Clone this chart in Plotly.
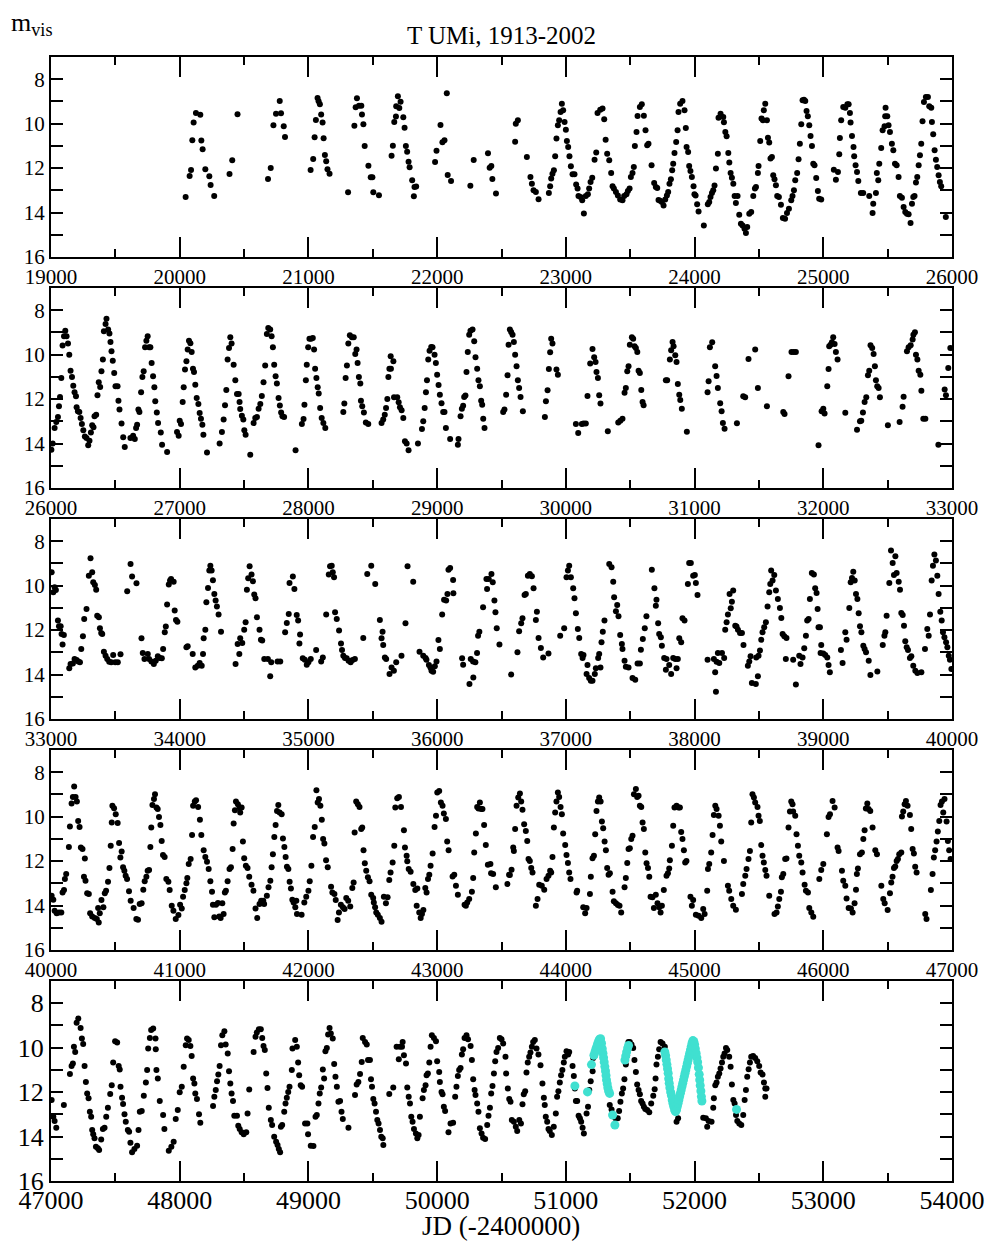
import plotly.graph_objects as go

# ---------------- data: (JD-2400000, visual magnitude) ----------------
panel_ranges = [(19000, 26000), (26000, 33000), (33000, 40000), (40000, 47000), (47000, 54000)]
jd_ticks = list(range(19000, 54001, 1000))
mag_ticks = [8, 9, 10, 11, 12, 13, 14, 15, 16]
mag_labels = ["8", "", "10", "", "12", "", "14", "", "16"]

obs_1913_1930 = [
    (20046, 13.3), (20077, 12.35), (20088, 12.08), (20098, 10.75), (20108, 9.95), (20126, 9.52), (20160, 9.6),
    (20168, 10.76), (20178, 11.15), (20199, 12.05), (20230, 12.37), (20240, 12.76), (20268, 13.25), (20387, 12.26),
    (20408, 11.65), (20449, 9.58), (20686, 12.49), (20707, 11.99), (20728, 10.07), (20748, 9.55), (20777, 8.98),
    (20787, 9.53), (20808, 10.12), (20818, 10.6), (21017, 12.08), (21037, 11.59), (21048, 10.61), (21058, 9.83),
    (21071, 8.84), (21079, 8.99), (21089, 9.13), (21099, 9.59), (21110, 9.95), (21118, 10.66), (21128, 11.41),
    (21138, 11.69), (21148, 12.05), (21164, 12.25), (21308, 13.09), (21357, 10.09), (21367, 9.26), (21377, 8.86),
    (21393, 9.19), (21411, 9.19), (21416, 9.59), (21427, 10.03), (21437, 11.0), (21466, 11.89), (21484, 12.41),
    (21497, 12.41), (21504, 13.09), (21548, 13.22), (21646, 11.44), (21656, 10.99), (21667, 9.92), (21680, 9.68),
    (21682, 9.22), (21695, 8.77), (21706, 9.29), (21716, 9.01), (21737, 9.71), (21747, 10.18), (21757, 11.0),
    (21767, 11.26), (21778, 11.71), (21786, 11.96), (21806, 12.55), (21819, 13.27), (21824, 12.85), (21837, 12.83),
    (21984, 11.72), (21995, 11.22), (22026, 10.06), (22041, 10.84), (22057, 10.75), (22075, 8.63), (22082, 12.31),
    (22108, 12.58), (22258, 12.79), (22284, 11.63), (22395, 11.33), (22408, 11.98), (22421, 11.9), (22429, 12.49),
    (22457, 13.14),
    (22606, 10.81), (22611, 10.0), (22627, 9.85), (22697, 11.5), (22725, 12.4), (22736, 12.7), (22749, 13.0),
    (22767, 13.07), (22788, 13.4), (22868, 13.12), (22878, 12.82), (22886, 12.47), (22896, 12.25), (22907, 12.1),
    (22917, 11.47), (22927, 10.67), (22938, 10.07), (22948, 9.85), (22959, 9.47), (22969, 9.1), (22979, 9.4),
    (22990, 9.92), (23000, 10.27), (23008, 10.78), (23018, 11.05), (23028, 11.47), (23039, 11.92), (23052, 12.28),
    (23067, 12.28), (23080, 12.74), (23091, 12.92), (23098, 13.25), (23114, 13.3), (23127, 13.45), (23140, 14.04),
    (23155, 13.25), (23171, 13.18), (23181, 12.92), (23192, 12.62), (23205, 12.43), (23223, 11.62), (23236, 11.3),
    (23246, 9.52), (23267, 9.37), (23285, 9.32), (23298, 9.8), (23309, 10.72), (23321, 11.35), (23337, 11.65),
    (23352, 12.22), (23363, 12.82), (23373, 12.92), (23389, 13.07), (23404, 13.23), (23422, 13.41), (23440, 13.45),
    (23453, 13.25), (23471, 13.18), (23482, 13.03), (23495, 12.92), (23505, 12.4), (23518, 12.22), (23528, 11.95),
    (23536, 11.0), (23549, 10.38), (23557, 9.65), (23575, 9.25), (23590, 9.13), (23606, 9.64), (23619, 10.3),
    (23632, 10.97), (23642, 10.9), (23666, 11.87), (23686, 12.67), (23699, 12.85), (23710, 12.9), (23720, 13.44),
    (23733, 13.47), (23746, 13.53), (23759, 13.68), (23772, 13.41), (23785, 13.23), (23795, 13.07), (23805, 12.7),
    (23816, 12.5), (23826, 12.1), (23834, 11.8), (23844, 11.32), (23857, 10.82), (23868, 10.3), (23875, 9.47),
    (23888, 9.1), (23906, 8.98), (23922, 9.4), (23932, 10.2), (23938, 11.05), (23950, 11.27), (23958, 11.9),
    (23968, 12.13), (23979, 12.4), (23992, 12.82), (23999, 13.18), (24008, 13.23), (24020, 13.63), (24031, 13.95),
    (24072, 14.58), (24103, 13.63), (24114, 13.53), (24124, 13.3), (24135, 13.12), (24145, 13.0), (24155, 12.78),
    (24166, 12.02), (24181, 11.35), (24186, 9.73), (24202, 9.55), (24223, 9.7), (24228, 9.94), (24239, 10.37),
    (24249, 10.57), (24262, 11.32), (24270, 11.75), (24280, 12.22), (24290, 12.43), (24301, 12.7), (24311, 13.25),
    (24321, 13.57), (24334, 13.25), (24347, 14.1), (24360, 14.5), (24373, 14.58), (24388, 14.73), (24399, 14.92),
    (24409, 14.65), (24425, 14.05), (24440, 13.98), (24456, 13.25), (24469, 12.92), (24477, 12.85), (24492, 12.22),
    (24497, 11.9), (24510, 10.78), (24520, 9.77), (24531, 9.85), (24538, 9.4), (24549, 9.1), (24562, 9.85),
    (24570, 10.63), (24580, 10.85), (24590, 11.57), (24601, 11.5), (24611, 12.32), (24621, 12.5), (24632, 12.77),
    (24642, 13.25), (24655, 13.3), (24671, 13.65), (24686, 14.25), (24703, 14.28), (24718, 14.02), (24733, 13.83),
    (24751, 13.45), (24761, 13.25), (24772, 13.0), (24782, 12.55), (24797, 12.22), (24808, 11.6), (24818, 10.9),
    (24829, 10.03), (24839, 8.95), (24850, 8.92), (24860, 8.98), (24870, 9.43), (24880, 9.67), (24891, 10.07),
    (24901, 10.55), (24912, 11.0), (24922, 11.8), (24932, 11.87), (24945, 12.44), (24958, 13.03), (24968, 13.38),
    (24984, 13.41), (25082, 12.07), (25098, 12.52), (25114, 12.17), (25124, 11.38), (25129, 10.64), (25139, 9.85),
    (25155, 9.25), (25171, 9.28), (25187, 9.13), (25197, 9.13), (25207, 9.52), (25212, 9.95), (25223, 10.55),
    (25235, 11.05), (25240, 11.47), (25251, 11.87), (25262, 12.17), (25272, 12.58), (25292, 13.12), (25310, 13.12),
    (25357, 13.25), (25388, 13.6), (25383, 14.02), (25409, 13.12), (25416, 12.22), (25427, 12.55), (25435, 11.8),
    (25450, 11.1), (25461, 10.3), (25476, 10.12), (25481, 9.67), (25484, 9.28), (25497, 9.67), (25507, 10.07),
    (25518, 10.37), (25533, 10.9), (25544, 11.2), (25557, 11.8), (25570, 11.87), (25585, 12.4), (25595, 13.25),
    (25611, 13.33), (25624, 13.75), (25637, 13.98), (25650, 14.05), (25663, 14.08), (25678, 14.47), (25689, 13.6),
    (25699, 13.3), (25709, 13.25), (25720, 12.65), (25730, 12.4), (25741, 11.87), (25751, 11.42), (25761, 10.9),
    (25771, 9.89), (25782, 9.02), (25797, 8.8), (25813, 8.8), (25823, 9.22), (25839, 9.28), (25844, 9.92),
    (25854, 10.48), (25865, 11.2), (25875, 11.62), (25885, 11.95), (25896, 12.32), (25906, 12.62), (25916, 12.82),
    (25952, 14.2),
]

obs_1930_1949 = [
    (26003, 14.28), (26013, 14.0), (26028, 13.3), (26041, 13.03), (26054, 12.8), (26062, 12.32), (26070, 11.9),
    (26080, 11.05), (26090, 9.59), (26101, 9.17), (26111, 8.92), (26121, 9.17), (26132, 9.5), (26142, 10.0),
    (26152, 10.72), (26163, 11.0), (26173, 11.4), (26183, 11.69), (26194, 11.87), (26199, 12.37), (26209, 12.55),
    (26220, 12.58), (26230, 12.85), (26240, 13.12), (26251, 13.4), (26263, 13.68), (26276, 13.75), (26289, 14.08),
    (26299, 13.87), (26310, 13.5), (26320, 13.18), (26330, 13.27), (26338, 12.77), (26351, 12.7), (26361, 11.83),
    (26371, 11.24), (26382, 11.45), (26392, 10.75), (26403, 10.22), (26411, 8.95), (26424, 8.62), (26431, 8.38),
    (26444, 8.87), (26454, 9.05), (26462, 9.43), (26470, 9.85), (26480, 10.27), (26491, 10.82), (26501, 11.42),
    (26517, 11.42), (26524, 12.07), (26532, 12.47), (26548, 13.1), (26561, 13.72), (26573, 14.16), (26617, 13.75),
    (26638, 13.65), (26651, 13.8), (26661, 13.3), (26669, 13.15), (26679, 12.47), (26687, 12.58), (26700, 11.69),
    (26710, 11.0), (26720, 10.75), (26731, 9.67), (26741, 9.37), (26751, 9.17), (26762, 9.67), (26772, 9.67),
    (26782, 10.37), (26793, 10.97), (26803, 11.47), (26810, 12.1), (26822, 12.6), (26832, 13.08), (26853, 13.5),
    (26863, 14.05), (26902, 14.38), (26979, 13.48), (26992, 13.65), (27000, 12.97), (27010, 13.12), (27023, 12.13),
    (27031, 11.47), (27041, 10.67), (27052, 10.3), (27062, 9.77), (27072, 9.37), (27083, 9.49), (27093, 9.88),
    (27103, 10.63), (27111, 10.78), (27121, 11.35), (27132, 11.95), (27145, 12.22), (27155, 12.62), (27165, 12.88),
    (27176, 13.15), (27184, 13.6), (27212, 14.4), (27310, 14.0), (27328, 13.48), (27341, 12.92), (27352, 12.28),
    (27362, 11.59), (27372, 10.22), (27383, 9.7), (27393, 9.22), (27403, 9.5), (27419, 10.45), (27432, 11.15),
    (27445, 11.77), (27458, 11.77), (27465, 12.13), (27470, 12.45), (27483, 12.75), (27494, 12.92), (27502, 13.4),
    (27512, 13.6), (27548, 14.5), (27574, 13.08), (27587, 12.85), (27600, 12.8), (27613, 12.43), (27626, 12.22),
    (27638, 11.86), (27651, 11.24), (27664, 10.49), (27677, 9.07), (27688, 8.8), (27703, 8.87), (27714, 9.17),
    (27724, 9.67), (27734, 10.45), (27745, 10.97), (27755, 11.3), (27768, 11.95), (27778, 12.29), (27788, 12.6),
    (27798, 12.77), (27811, 12.8), (27900, 14.3), (27949, 13.12), (27962, 12.9), (27969, 12.25), (27980, 11.15),
    (27987, 10.45), (27998, 9.67), (28008, 9.28), (28021, 9.28), (28034, 9.25), (28044, 9.77), (28052, 10.63),
    (28062, 11.05), (28072, 11.47), (28080, 11.75), (28091, 12.4), (28103, 12.85), (28116, 13.08), (28131, 13.3),
    (28271, 12.58), (28279, 12.2), (28289, 11.05), (28299, 10.49), (28310, 9.5), (28322, 9.13), (28338, 9.22),
    (28352, 9.22), (28364, 9.97), (28374, 9.77), (28382, 10.37), (28392, 11.0), (28403, 11.3), (28408, 12.07),
    (28418, 12.32), (28431, 12.6), (28446, 13.05), (28465, 13.12), (28568, 13.08), (28581, 12.92), (28593, 12.7),
    (28603, 12.4), (28613, 11.99), (28621, 11.0), (28629, 10.63), (28641, 10.63), (28660, 10.3), (28639, 10.07),
    (28665, 11.92), (28690, 11.92), (28701, 12.14), (28711, 12.37), (28724, 12.5), (28737, 12.85), (28750, 13.9),
    (28763, 14.0), (28778, 14.3), (28851, 14.0), (28882, 13.35), (28892, 13.0), (28903, 12.4), (28913, 11.69),
    (28921, 11.15), (28931, 10.22), (28941, 9.82), (28954, 9.65), (28964, 9.67), (28980, 10.0), (28990, 10.38),
    (29000, 10.9), (29011, 11.36), (29021, 11.8), (29034, 12.19), (29047, 12.58), (29057, 12.58), (29068, 13.3),
    (29101, 13.8), (29166, 13.8), (29161, 14.05), (29182, 12.77), (29192, 12.43), (29202, 12.3), (29210, 11.9),
    (29220, 11.84), (29228, 10.78), (29238, 9.88), (29249, 9.1), (29259, 8.92), (29275, 8.87), (29288, 9.4),
    (29298, 10.12), (29311, 10.63), (29321, 11.15), (29332, 11.42), (29342, 12.07), (29350, 12.25), (29358, 12.88),
    (29368, 13.3),
    (29513, 12.58), (29523, 12.47), (29536, 11.8), (29547, 10.93), (29555, 9.55), (29565, 8.87), (29575, 8.98),
    (29586, 9.1), (29596, 9.43), (29606, 10.0), (29617, 10.52), (29627, 11.15), (29637, 11.5), (29648, 11.9),
    (29666, 12.55), (29837, 12.8), (29845, 12.1), (29858, 11.6), (29868, 10.64), (29878, 9.89), (29886, 9.28),
    (29896, 9.5), (29927, 10.67), (29938, 10.9), (30078, 13.12), (30096, 13.53), (30124, 13.12), (30137, 13.1),
    (30155, 13.1), (30168, 11.86), (30189, 10.4), (30207, 9.74), (30220, 10.12), (30231, 10.33), (30238, 10.78),
    (30249, 11.05), (30259, 11.83), (30269, 12.2), (30326, 13.45), (30407, 13.05), (30423, 12.97), (30440, 12.88),
    (30456, 11.71), (30466, 11.5), (30477, 10.75), (30487, 10.52), (30497, 9.55), (30513, 9.22), (30523, 9.28),
    (30534, 9.62), (30544, 9.7), (30555, 9.88), (30565, 10.72), (30575, 10.82), (30586, 11.59), (30596, 12.13),
    (30604, 12.28), (30777, 11.15), (30787, 11.15), (30808, 10.22), (30818, 9.8), (30829, 9.43), (30837, 9.62),
    (30850, 10.03), (30860, 10.33), (30870, 11.32), (30881, 11.8), (30889, 12.04), (30901, 12.43), (30940, 13.47),
    (31101, 11.69), (31109, 11.2), (31119, 9.67), (31137, 9.44), (31160, 10.52), (31171, 10.96), (31181, 11.5),
    (31199, 12.19), (31210, 12.55), (31220, 13.08), (31233, 13.33), (31329, 13.09), (31378, 11.87), (31393, 11.92),
    (31419, 10.19), (31471, 9.77), (31492, 11.5), (31562, 12.32), (31689, 12.58), (31699, 12.67), (31730, 10.97),
    (31753, 9.88), (31771, 9.88), (31787, 9.88), (31963, 14.08), (31987, 12.55), (32000, 12.43), (32010, 12.65),
    (32031, 11.42), (32041, 10.64), (32046, 9.62), (32057, 9.55), (32067, 9.44), (32077, 9.22), (32088, 9.52),
    (32098, 9.88), (32111, 10.22), (32171, 12.61), (32262, 13.38), (32285, 13.0), (32295, 12.97), (32308, 12.6),
    (32321, 12.13), (32334, 11.92), (32347, 10.93), (32357, 10.72), (32367, 9.58), (32380, 9.7), (32391, 9.97),
    (32401, 10.52), (32409, 11.15), (32419, 11.42), (32430, 11.5), (32440, 11.92), (32502, 13.18), (32593, 13.03),
    (32616, 12.34), (32624, 11.89), (32650, 9.85), (32663, 9.67), (32679, 9.58), (32694, 9.32), (32700, 9.1),
    (32712, 8.99), (32720, 10.0), (32731, 10.22), (32741, 10.72), (32754, 10.9), (32762, 11.62), (32777, 12.88),
    (32793, 12.88), (32894, 14.05), (32943, 11.57), (32953, 11.83), (32971, 10.6), (32987, 9.7),
]

obs_1949_1968 = [
    (33005, 9.4), (33018, 10.3), (33028, 10.07), (33038, 10.19), (33054, 11.57), (33062, 11.83), (33075, 11.83),
    (33082, 12.17), (33100, 12.22), (33090, 12.65), (33142, 13.72), (33152, 13.53), (33170, 13.5), (33183, 13.3),
    (33199, 13.35), (33212, 13.41), (33225, 13.45), (33235, 12.85), (33248, 12.28), (33258, 11.5), (33276, 11.05),
    (33294, 9.55), (33307, 8.77), (33320, 9.4), (33328, 9.85), (33341, 9.97), (33351, 10.18), (33359, 11.35),
    (33372, 11.42), (33380, 11.92), (33390, 12.13), (33398, 12.17), (33411, 12.97), (33424, 13.15), (33437, 13.3),
    (33452, 13.42), (33468, 13.45), (33483, 13.12), (33499, 13.45), (33519, 13.45), (33540, 13.09), (33592, 10.25),
    (33618, 9.02), (33630, 9.59), (33664, 9.89), (33703, 12.37), (33713, 13.03), (33726, 13.3), (33752, 13.08),
    (33762, 13.3), (33780, 13.41), (33799, 13.53), (33814, 13.38), (33830, 13.18), (33845, 13.26), (33861, 13.27),
    (33871, 12.85), (33884, 12.1), (33892, 11.84), (33902, 10.85), (33915, 9.95), (33925, 9.77), (33933, 9.7),
    (33953, 9.82), (33961, 11.12), (33971, 11.54), (33982, 11.62), (34052, 12.77), (34062, 12.73), (34101, 13.08),
    (34121, 13.68), (34140, 13.6), (34155, 13.48), (34171, 13.6), (34181, 13.08), (34186, 12.37), (34199, 11.98),
    (34207, 10.75), (34220, 10.1), (34230, 9.32), (34238, 9.1), (34248, 9.32), (34258, 9.76), (34269, 10.37),
    (34279, 10.67), (34289, 10.94), (34302, 11.3), (34321, 12.07), (34434, 13.53), (34450, 12.62), (34463, 13.08),
    (34470, 12.37), (34486, 12.58), (34501, 11.98), (34512, 11.65), (34522, 10.18), (34532, 9.67), (34543, 9.13),
    (34558, 9.5), (34569, 9.8), (34579, 10.4), (34589, 10.57), (34600, 11.42), (34620, 11.98), (34631, 12.43),
    (34641, 12.47), (34657, 13.3), (34685, 13.3), (34703, 14.08), (34711, 13.45), (34760, 13.41), (34781, 13.41),
    (34819, 12.1), (34832, 11.68), (34847, 11.27), (34853, 9.88), (34879, 9.59), (34891, 10.15), (34909, 11.32),
    (34920, 11.57), (34935, 12.2), (34930, 12.6), (34956, 13.27), (34972, 13.33), (34987, 13.56), (35000, 13.45),
    (35018, 13.3), (35060, 12.9), (35099, 13.41), (35112, 13.23), (35138, 11.3), (35158, 9.5), (35168, 9.13),
    (35181, 9.1), (35189, 9.4), (35199, 9.62), (35207, 11.2), (35220, 11.5), (35238, 12.02), (35253, 12.6),
    (35261, 12.9), (35271, 13.15), (35284, 13.26), (35297, 13.27), (35312, 13.38), (35328, 13.45), (35343, 13.35),
    (35361, 13.3), (35426, 12.35), (35457, 9.47), (35488, 9.1), (35519, 9.92), (35555, 11.54), (35576, 12.07),
    (35568, 12.37), (35581, 12.67), (35594, 13.23), (35604, 13.3), (35630, 13.98), (35646, 13.68), (35664, 13.83),
    (35682, 13.45), (35723, 13.15), (35754, 11.69), (35770, 9.13), (35814, 9.82), (35863, 12.97), (35892, 13.15),
    (35910, 13.26), (35917, 13.33), (35936, 13.57), (35948, 13.68), (35956, 13.83), (35969, 13.87), (35982, 13.63),
    (35995, 13.41), (36010, 12.44), (36021, 12.85), (36039, 11.3), (36054, 10.63), (36070, 10.67), (36080, 10.37),
    (36088, 9.28), (36101, 9.2), (36124, 9.74), (36126, 10.34), (36194, 13.27), (36202, 13.56), (36261, 13.3),
    (36279, 13.41), (36297, 13.45), (36310, 13.03), (36251, 14.43), (36281, 14.13), (36318, 12.25), (36328, 12.07),
    (36357, 10.97), (36388, 10.15), (36383, 9.7), (36401, 9.7), (36422, 9.47), (36432, 9.85), (36445, 10.67),
    (36453, 11.2), (36463, 11.92), (36484, 12.65),
    (36575, 14.0), (36624, 13.0), (36637, 12.05), (36653, 11.69), (36663, 11.47), (36679, 10.42), (36689, 10.37),
    (36705, 9.55), (36720, 9.47), (36736, 9.58), (36749, 10.12), (36767, 11.54), (36775, 11.17), (36788, 12.35),
    (36806, 12.8), (36824, 13.23), (36865, 13.05), (36956, 12.25), (36987, 11.92), (37005, 9.62), (37016, 9.32),
    (37026, 9.1), (37039, 9.62), (37057, 10.12), (37067, 10.57), (37078, 11.24), (37093, 11.95), (37104, 12.35),
    (37119, 13.08), (37130, 13.26), (37137, 13.12), (37161, 13.98), (37168, 13.57), (37181, 14.16), (37194, 14.28),
    (37207, 14.28), (37225, 13.98), (37233, 13.72), (37251, 13.26), (37259, 13.08), (37269, 13.68), (37277, 12.55),
    (37287, 12.07), (37300, 11.57), (37337, 9.02), (37355, 9.17), (37368, 9.82), (37375, 10.52), (37389, 11.15),
    (37399, 10.87), (37409, 11.38), (37422, 12.22), (37435, 12.62), (37440, 12.85), (37456, 13.38), (37466, 13.65),
    (37487, 13.68), (37518, 14.16), (37539, 14.23), (37557, 13.5), (37575, 13.5), (37583, 12.88), (37598, 12.4),
    (37613, 11.92), (37626, 11.38), (37668, 9.28), (37688, 10.12), (37704, 10.63), (37699, 10.9), (37717, 11.69),
    (37725, 12.17), (37738, 12.32), (37746, 12.7), (37764, 13.26), (37782, 13.3), (37777, 13.78), (37803, 13.57),
    (37818, 13.98), (37834, 13.26), (37850, 13.3), (37860, 13.72), (37870, 13.3), (37881, 12.37), (37896, 12.55),
    (37906, 11.47), (37922, 11.57), (37948, 9.92), (37958, 8.98), (37971, 8.98), (37989, 9.55), (38002, 9.52),
    (38010, 9.88), (38023, 10.42), (38101, 13.33), (38150, 13.3), (38160, 13.9), (38171, 13.42), (38181, 13.03),
    (38192, 13.48), (38213, 13.03), (38230, 13.26), (38166, 14.77), (38238, 11.98), (38249, 11.65), (38259, 11.3),
    (38272, 10.37), (38281, 11.02), (38290, 10.72), (38300, 10.22), (38316, 11.8), (38326, 11.84), (38337, 11.98),
    (38353, 12.13), (38368, 12.13), (38380, 12.67), (38414, 13.6), (38425, 13.41), (38435, 13.18), (38445, 14.38),
    (38476, 14.43), (38492, 14.08), (38479, 13.23), (38497, 13.15), (38508, 12.92), (38518, 12.43), (38528, 12.1),
    (38541, 11.87), (38554, 11.65), (38567, 10.94), (38580, 10.3), (38588, 9.92), (38595, 9.32), (38606, 9.77),
    (38619, 9.52), (38632, 10.22), (38647, 10.6), (38663, 11.0), (38674, 11.45), (38684, 12.17), (38697, 12.28),
    (38714, 12.35), (38709, 13.3), (38766, 13.33), (38787, 14.45), (38813, 13.15), (38823, 13.53), (38839, 13.23),
    (38852, 12.82), (38865, 12.25), (38875, 11.57), (38886, 11.5), (38896, 10.6), (38911, 9.43), (38927, 9.5),
    (38937, 10.12), (38948, 10.33), (38956, 11.05), (38963, 11.87), (38974, 11.87), (38984, 12.67), (38979, 13.03),
    (39000, 13.05), (39015, 13.12), (39031, 13.23), (39041, 13.57), (39051, 13.9), (39137, 12.9), (39150, 13.48),
    (39171, 12.1), (39181, 12.43), (39202, 11.0), (39213, 9.85), (39223, 9.65), (39233, 9.37), (39244, 9.77),
    (39254, 10.37), (39265, 10.6), (39275, 11.24), (39285, 11.83), (39296, 12.1), (39311, 12.7), (39321, 12.85),
    (39332, 13.0), (39353, 13.38), (39366, 14.02), (39420, 13.86), (39462, 12.67), (39475, 12.25), (39482, 12.1),
    (39492, 11.35), (39513, 9.88), (39526, 8.42), (39539, 8.98), (39549, 9.52), (39560, 8.68), (39570, 9.43),
    (39586, 9.82), (39596, 10.18), (39606, 11.23), (39617, 11.32), (39627, 11.8), (39637, 12.5), (39648, 12.77),
    (39658, 12.9), (39673, 13.26), (39684, 13.18), (39699, 13.6), (39715, 13.83), (39731, 13.93), (39762, 13.9),
    (39790, 12.85), (39808, 11.95), (39819, 12.25), (39829, 11.3), (39842, 9.77), (39852, 9.1), (39863, 8.6),
    (39875, 8.87), (39886, 9.55), (39896, 10.37), (39909, 11.17), (39920, 11.57), (39930, 12.1), (39941, 12.32),
    (39954, 12.55), (39964, 12.77), (39975, 13.15), (39984, 13.33), (39995, 13.75),
]

obs_1968_1987 = [
    (40005, 13.56), (40018, 13.74), (40028, 14.23), (40044, 14.35), (40062, 14.31), (40080, 14.31), (40090, 13.41),
    (40101, 13.3), (40108, 12.81), (40118, 12.58), (40139, 11.36), (40147, 10.44), (40160, 9.41), (40170, 9.11),
    (40180, 8.64), (40191, 9.11), (40201, 9.32), (40211, 10.19), (40222, 10.46), (40232, 11.39), (40245, 11.46),
    (40263, 11.88), (40256, 12.7), (40268, 12.88), (40281, 13.45), (40294, 13.48), (40304, 14.35), (40320, 14.49),
    (40340, 14.56), (40356, 14.61), (40371, 14.76), (40379, 14.35), (40366, 14.11), (40392, 13.75), (40407, 14.08),
    (40418, 13.45), (40428, 13.33), (40443, 12.93), (40454, 12.31), (40464, 11.31), (40472, 10.26), (40477, 9.51),
    (40490, 9.62), (40503, 9.89), (40518, 10.29), (40529, 11.19), (40539, 11.84), (40549, 11.57), (40560, 12.28),
    (40570, 12.43), (40580, 12.66), (40591, 12.81), (40606, 13.36), (40619, 13.78), (40642, 14.11), (40663, 14.61),
    (40676, 14.64), (40689, 13.93), (40704, 13.9), (40717, 13.29), (40728, 12.91), (40741, 12.7), (40751, 12.43),
    (40762, 12.4), (40772, 11.36), (40779, 10.49), (40788, 9.47), (40800, 9.21), (40808, 8.99), (40819, 9.59),
    (40829, 9.66), (40839, 10.01), (40850, 10.38), (40860, 11.09), (40870, 11.73), (40883, 11.81), (40896, 12.81),
    (40912, 12.93), (40922, 13.3), (40938, 14.01), (40951, 14.23), (40969, 14.61), (40990, 14.43), (41003, 13.96),
    (41016, 14.13), (41026, 13.6), (41039, 13.3), (41052, 13.0), (41059, 12.76), (41070, 12.13), (41085, 11.91),
    (41096, 10.82), (41104, 9.51), (41117, 9.32), (41127, 9.26), (41143, 9.56), (41157, 10.14), (41168, 10.82),
    (41186, 11.51), (41199, 11.81), (41212, 12.03), (41225, 12.36), (41238, 12.91), (41251, 13.38), (41258, 13.96),
    (41269, 14.53), (41282, 13.96), (41297, 13.89), (41307, 14.49), (41318, 14.56), (41331, 13.9), (41341, 14.38),
    (41351, 13.41), (41359, 13.33), (41372, 12.91), (41387, 12.36), (41398, 12.28), (41411, 11.46), (41419, 10.31),
    (41429, 9.71), (41437, 9.32), (41452, 9.44), (41465, 9.59), (41470, 9.81), (41481, 9.59), (41491, 11.12),
    (41501, 11.87), (41514, 12.21), (41527, 12.31), (41540, 12.7), (41558, 13.06), (41573, 13.33), (41589, 14.13),
    (41602, 14.56), (41620, 13.93), (41633, 13.78), (41649, 13.78), (41656, 13.93), (41677, 13.56), (41690, 13.18),
    (41704, 12.88), (41714, 12.28), (41724, 11.69), (41735, 10.91), (41745, 10.38), (41756, 9.74), (41766, 9.47),
    (41776, 9.81), (41792, 9.89), (41802, 10.98), (41813, 11.36), (41823, 11.81), (41833, 12.25), (41844, 12.36),
    (41854, 12.93), (41864, 13.23), (41875, 13.74), (41885, 13.86), (41898, 14.08), (41911, 14.38), (41906, 13.78),
    (41947, 14.41), (41968, 13.86), (41983, 13.6), (42000, 13.33), (42010, 12.91), (42023, 12.21), (42036, 10.91),
    (42049, 10.46), (42062, 8.81), (42072, 9.36), (42082, 9.21), (42093, 9.51), (42104, 10.14), (42114, 11.01),
    (42124, 11.21), (42137, 11.96), (42150, 12.28), (42176, 13.15), (42186, 13.41), (42202, 13.48), (42212, 13.75),
    (42227, 14.65), (42237, 14.31), (42252, 13.96), (42268, 14.08), (42281, 14.16), (42294, 13.66), (42309, 13.78),
    (42325, 14.04), (42341, 13.21), (42351, 12.96), (42359, 10.71), (42371, 9.32), (42384, 9.44), (42397, 9.56),
    (42410, 10.56), (42418, 10.49), (42428, 11.51), (42438, 12.1), (42449, 12.43), (42462, 12.73), (42475, 12.91),
    (42488, 13.51), (42503, 13.66), (42508, 13.86), (42518, 14.08), (42527, 14.31), (42539, 14.41), (42555, 14.56),
    (42568, 14.73), (42586, 13.6), (42602, 13.9), (42615, 13.63), (42628, 12.85), (42638, 12.51), (42654, 12.06),
    (42667, 11.31), (42675, 9.59), (42690, 9.17), (42703, 9.11), (42719, 9.56), (42742, 10.61), (42750, 11.39),
    (42763, 11.76), (42768, 12.01), (42779, 12.36), (42794, 12.48), (42815, 13.03), (42830, 13.3), (42846, 13.23),
    (42841, 14.01), (42861, 14.31), (42872, 14.56), (42882, 14.38), (42893, 14.2), (42908, 13.21), (42918, 13.41),
    (42929, 12.81), (42939, 12.61), (42949, 12.21), (42965, 11.66), (42980, 10.46), (42991, 9.96), (43001, 8.91),
    (43016, 8.84), (43029, 9.36), (43042, 9.51), (43052, 9.86), (43068, 10.11), (43078, 11.12), (43089, 11.51),
    (43120, 12.69), (43133, 12.61), (43146, 13.11), (43161, 13.51), (43213, 13.96), (43223, 14.01), (43234, 13.86),
    (43249, 13.71), (43270, 13.38), (43280, 12.76), (43288, 11.61), (43301, 10.76), (43311, 9.56), (43321, 9.63),
    (43332, 9.36), (43342, 9.66), (43352, 9.66), (43365, 10.38), (43378, 11.28), (43394, 12.16), (43414, 12.13),
    (43419, 12.55), (43435, 12.58), (43456, 13.18), (43546, 13.03), (43559, 12.61),
    (43565, 12.63), (43578, 12.39), (43591, 11.39), (43596, 11.54), (43606, 10.56), (43617, 9.51), (43630, 9.14),
    (43643, 8.96), (43653, 9.32), (43663, 9.69), (43676, 10.34), (43689, 10.64), (43700, 11.09), (43710, 11.91),
    (43720, 11.99), (43731, 12.31), (43741, 12.51), (43767, 14.01), (43780, 13.71), (43793, 13.06), (43813, 13.11),
    (43832, 13.29), (43850, 12.81), (43865, 12.66), (43878, 12.43), (43886, 12.51), (43896, 11.81), (43907, 10.49),
    (43917, 9.81), (43927, 9.32), (43938, 8.91), (43948, 9.11), (43959, 9.56), (43969, 9.89), (43979, 10.76),
    (43995, 11.28), (44005, 11.73), (44016, 12.09), (44026, 12.51), (44036, 12.81), (44083, 13.41), (44088, 13.33),
    (44135, 14.08), (44150, 14.35), (44161, 14.11), (44187, 13.48), (44194, 12.7), (44207, 11.87), (44218, 11.76),
    (44228, 10.79), (44238, 9.74), (44249, 9.32), (44259, 9.14), (44270, 9.32), (44280, 10.22), (44290, 10.52),
    (44301, 11.12), (44311, 11.51), (44321, 12.31), (44332, 12.61), (44342, 12.55), (44363, 13.38), (44373, 13.81),
    (44389, 13.9), (44404, 13.98), (44417, 14.01), (44430, 14.31), (44456, 13.18), (44466, 12.76), (44477, 12.09),
    (44487, 11.46), (44497, 11.42), (44508, 11.01), (44518, 10.86), (44529, 8.99), (44544, 8.76), (44554, 9.11),
    (44565, 9.06), (44575, 9.51), (44586, 9.56), (44596, 10.26), (44606, 10.56), (44617, 11.61), (44627, 12.1),
    (44638, 12.31), (44648, 12.7), (44658, 13.6), (44673, 13.63), (44684, 14.11), (44699, 13.51), (44712, 13.9),
    (44725, 14.08), (44736, 14.31), (44746, 14.01), (44761, 13.3), (44782, 12.66), (44793, 12.55), (44803, 12.33),
    (44808, 11.96), (44824, 11.31), (44834, 10.41), (44844, 9.59), (44860, 9.51), (44875, 9.59), (44886, 9.59),
    (44896, 10.69), (44906, 11.01), (44917, 11.51), (44927, 12.06), (44937, 11.99), (44968, 13.6), (44979, 14.01),
    (44989, 13.75), (45010, 14.41), (45031, 14.46), (45052, 14.56), (45067, 14.16), (45078, 14.38), (45098, 13.33),
    (45104, 12.36), (45114, 12.13), (45129, 11.61), (45140, 10.82), (45150, 9.92), (45161, 9.51), (45171, 9.66),
    (45187, 9.96), (45197, 10.41), (45207, 11.12), (45228, 11.99), (45259, 13.11), (45269, 13.33), (45285, 13.71),
    (45300, 14.01), (45321, 14.19), (45368, 13.48), (45378, 13.03), (45394, 12.66), (45404, 12.36), (45419, 11.91),
    (45430, 11.54), (45440, 10.26), (45450, 8.99), (45461, 9.14), (45471, 9.36), (45489, 9.56), (45497, 9.96),
    (45507, 10.19), (45518, 11.28), (45528, 11.76), (45538, 12.06), (45549, 12.4), (45559, 12.66), (45580, 13.56),
    (45621, 14.38), (45637, 14.31), (45647, 14.04), (45658, 13.71), (45671, 13.38), (45678, 12.73), (45689, 12.58),
    (45704, 11.91), (45714, 11.88), (45730, 10.49), (45741, 9.77), (45751, 9.32), (45761, 9.44), (45766, 9.77),
    (45782, 9.96), (45792, 10.79), (45803, 11.31), (45813, 11.76), (45829, 12.06), (45839, 12.51), (45855, 13.06),
    (45865, 13.33), (45881, 13.41), (45891, 14.11), (45907, 14.31), (45922, 14.5), (45969, 12.81), (45984, 12.4),
    (46000, 12.13), (46028, 10.79), (46041, 10.01), (46052, 9.89), (46072, 9.29), (46088, 9.59), (46111, 11.39),
    (46119, 11.54), (46145, 12.43), (46155, 12.88), (46171, 13.11), (46181, 13.68), (46197, 14.11), (46215, 14.13),
    (46228, 14.31), (46243, 13.9), (46254, 13.29), (46261, 12.58), (46269, 12.33), (46285, 11.69), (46300, 11.61),
    (46311, 11.01), (46321, 10.61), (46331, 9.63), (46342, 9.41), (46352, 9.66), (46365, 9.74), (46383, 10.49),
    (46404, 11.51), (46417, 11.69), (46451, 13.11), (46466, 13.71), (46477, 13.9), (46500, 14.2), (46518, 13.45),
    (46528, 12.96), (46538, 12.7), (46549, 12.31), (46559, 12.24), (46570, 11.99), (46580, 11.91), (46590, 11.69),
    (46606, 11.61), (46611, 9.99), (46621, 9.77), (46632, 9.44), (46642, 9.29), (46655, 9.51), (46673, 9.92),
    (46683, 10.56), (46694, 11.46), (46704, 11.66), (46714, 12.25), (46725, 12.51), (46792, 14.38), (46802, 14.61),
    (46836, 13.3), (46849, 12.58), (46859, 11.84), (46869, 11.51), (46880, 11.12), (46890, 10.67), (46901, 10.19),
    (46911, 9.47), (46922, 9.32), (46932, 9.81), (46942, 9.21), (46958, 10.22), (46968, 11.09), (46978, 11.51),
    (46989, 11.91),
]

obs_1987_2002 = [
    (47005, 12.36), (47018, 13.11), (47028, 13.3), (47041, 13.6), (47100, 12.58), (47147, 11.19), (47160, 10.82),
    (47170, 10.71), (47178, 9.96), (47188, 10.19), (47199, 8.88), (47212, 8.69), (47230, 9.11), (47240, 9.59),
    (47250, 9.84), (47261, 10.83), (47271, 11.54), (47281, 12.06), (47292, 12.28), (47302, 12.88), (47312, 13.11),
    (47320, 13.71), (47328, 13.9), (47338, 14.08), (47349, 14.46), (47364, 14.53), (47374, 14.61), (47390, 14.13),
    (47403, 13.66), (47416, 13.6), (47429, 13.11), (47442, 12.7), (47460, 12.09), (47472, 11.69), (47483, 10.67),
    (47498, 9.71), (47514, 9.77), (47526, 10.82), (47534, 10.98), (47540, 11.76), (47552, 12.25), (47560, 12.54),
    (47571, 13.0), (47581, 13.33), (47597, 13.71), (47607, 13.78), (47617, 14.28), (47630, 14.71), (47648, 14.56),
    (47669, 14.41), (47680, 13.71), (47690, 12.88), (47705, 12.85), (47721, 12.16), (47737, 11.57), (47747, 11.01),
    (47755, 10.04), (47768, 9.56), (47778, 9.21), (47794, 9.14), (47812, 9.59), (47814, 10.07), (47819, 11.01),
    (47830, 11.39), (47845, 12.4), (47871, 13.03), (47881, 13.66), (47915, 14.64), (47935, 14.46), (47953, 14.23),
    (47969, 13.21), (47985, 12.81), (48000, 12.01), (48016, 11.76), (48031, 10.86), (48047, 9.89), (48057, 9.59),
    (48070, 9.66), (48083, 9.92), (48093, 10.37), (48104, 11.39), (48114, 11.61), (48121, 12.06), (48134, 12.31),
    (48150, 13.0), (48160, 13.38), (48259, 12.63), (48269, 12.21), (48280, 11.91), (48290, 11.51), (48300, 11.21),
    (48310, 10.82), (48321, 9.89), (48331, 9.44), (48347, 9.26), (48357, 9.86), (48373, 10.26), (48383, 11.06),
    (48393, 11.61), (48403, 12.06), (48414, 12.4), (48424, 13.06), (48445, 13.06), (48455, 13.51), (48466, 13.66),
    (48481, 13.81), (48497, 13.9), (48517, 13.81), (48527, 12.96), (48540, 11.88), (48574, 10.19), (48589, 9.51),
    (48599, 9.32), (48615, 9.17), (48630, 9.17), (48641, 9.56), (48651, 9.92), (48661, 10.11), (48672, 11.16),
    (48682, 11.81), (48692, 12.7), (48708, 13.26), (48718, 13.48), (48734, 14.01), (48749, 14.23), (48760, 14.38),
    (48770, 14.56), (48780, 14.71), (48786, 13.56), (48796, 13.48), (48812, 12.88), (48822, 12.51), (48832, 12.25),
    (48843, 11.99), (48853, 11.76), (48871, 11.01), (48876, 10.04), (48897, 9.66), (48910, 9.96), (48920, 10.67),
    (48928, 11.24), (48940, 11.69), (48951, 11.76), (48974, 13.41), (48992, 13.41), (48997, 13.9), (49018, 14.41),
    (49039, 14.43), (49055, 13.11), (49065, 13.03), (49078, 12.51), (49088, 12.06), (49099, 11.79), (49112, 10.98),
    (49122, 11.39), (49132, 10.16), (49143, 10.01), (49153, 9.41), (49164, 9.11), (49174, 9.36), (49189, 9.59),
    (49200, 10.74), (49210, 11.31), (49221, 11.76), (49233, 12.43), (49246, 12.4), (49257, 12.88), (49267, 13.21),
    (49311, 13.6), (49362, 12.13), (49375, 11.66), (49388, 11.54), (49401, 11.19), (49414, 10.64), (49422, 9.56),
    (49440, 9.74), (49453, 9.86), (49463, 10.56), (49478, 10.56), (49486, 11.42), (49494, 11.76), (49504, 12.31),
    (49514, 12.51), (49525, 12.88), (49535, 13.26), (49545, 13.41), (49556, 13.71), (49566, 14.01), (49577, 14.08),
    (49582, 14.38), (49628, 12.09), (49659, 11.79), (49685, 9.96), (49702, 10.52), (49711, 9.96), (49727, 9.96),
    (49732, 9.74), (49742, 10.34), (49758, 10.71), (49768, 11.79), (49779, 12.21), (49789, 12.51), (49799, 13.11),
    (49809, 13.33), (49820, 13.66), (49835, 13.86), (49846, 14.08), (49856, 13.93), (49866, 13.11), (49887, 12.28),
    (49897, 11.91), (49910, 11.69), (49918, 11.24), (49928, 11.16), (49939, 10.67), (49949, 9.96), (49959, 9.44),
    (49975, 9.56), (49991, 9.71),
    (50000, 10.61), (50016, 11.09), (50021, 11.54), (50034, 11.99), (50042, 12.1), (50052, 12.66), (50062, 12.85),
    (50088, 13.81), (50104, 13.41), (50124, 13.38), (50140, 12.21), (50150, 11.76), (50161, 11.27), (50171, 11.01),
    (50182, 10.91), (50192, 10.31), (50202, 10.07), (50213, 9.56), (50228, 9.44), (50240, 9.62), (50260, 9.92),
    (50270, 10.56), (50280, 11.42), (50291, 11.91), (50298, 12.13), (50311, 12.51), (50321, 12.88), (50332, 13.63),
    (50345, 13.86), (50357, 14.05), (50373, 14.11), (50389, 13.48), (50399, 13.06), (50410, 12.7), (50420, 12.06),
    (50430, 11.72), (50441, 11.16), (50451, 10.61), (50461, 10.19), (50474, 10.01), (50487, 9.56), (50500, 9.62),
    (50513, 9.81), (50531, 10.41), (50536, 11.16), (50549, 11.84), (50560, 12.31), (50570, 12.43), (50580, 13.26),
    (50596, 13.33), (50611, 13.56), (50622, 13.75), (50638, 13.26), (50651, 13.41), (50663, 12.55), (50673, 12.1),
    (50684, 11.96), (50694, 11.12), (50704, 10.67), (50715, 10.41), (50725, 10.22), (50736, 9.96), (50746, 9.74),
    (50759, 9.66), (50772, 10.04), (50787, 10.31), (50803, 10.79), (50818, 11.61), (50829, 12.25), (50836, 12.58),
    (50844, 13.11), (50855, 13.33), (50865, 13.66), (50875, 13.75), (50891, 13.93), (50906, 13.56), (50922, 12.96),
    (50932, 12.21), (50942, 11.96), (50953, 11.57), (50963, 11.24), (50973, 11.01), (50984, 10.67), (50992, 10.41),
    (51005, 10.16), (51018, 10.31), (51026, 10.19), (51052, 10.82), (51062, 11.27), (51070, 11.84), (51078, 12.4),
    (51088, 12.4), (51099, 13.06), (51109, 13.18), (51119, 13.33), (51130, 13.6), (51140, 13.86), (51161, 12.96),
    (51172, 12.66), (51182, 11.91), (51193, 11.51), (51208, 11.06), (51213, 10.46), (51223, 10.37), (51341, 12.58),
    (51355, 12.78), (51367, 13.0), (51385, 13.18), (51403, 13.18), (51414, 12.85), (51424, 12.43), (51435, 12.06),
    (51445, 11.84), (51455, 11.42), (51466, 10.76), (51476, 10.34), (51486, 9.74), (51497, 9.74), (51510, 9.86),
    (51523, 10.01), (51533, 10.56), (51544, 11.09), (51554, 11.66), (51565, 11.91), (51575, 12.1), (51585, 12.4),
    (51596, 12.51), (51606, 12.66), (51617, 12.76), (51632, 12.81), (51648, 12.91), (51663, 12.51), (51679, 12.16),
    (51690, 11.87), (51697, 11.39), (51704, 10.76), (51715, 10.41), (51725, 10.07), (51736, 9.74), (51751, 9.81),
    (51769, 9.96), (51860, 13.33), (51872, 13.18), (52067, 13.15), (52088, 13.18), (52098, 13.56), (52109, 13.3),
    (52132, 13.33), (52145, 12.7), (52150, 12.28), (52161, 11.69), (52171, 11.57), (52181, 11.31), (52192, 11.16),
    (52202, 10.94), (52213, 10.67), (52223, 10.41), (52233, 10.26), (52244, 10.01), (52254, 10.11), (52269, 10.41),
    (52280, 10.86), (52290, 11.66), (52301, 12.36), (52311, 12.51), (52322, 13.03), (52332, 13.3), (52347, 13.41),
    (52363, 13.48), (52378, 13.03), (52389, 12.36), (52399, 11.91), (52409, 11.31), (52420, 10.97), (52430, 10.67),
    (52440, 10.41), (52455, 10.37), (52471, 10.46), (52487, 10.61), (52502, 10.82), (52513, 11.12), (52528, 11.21),
    (52539, 11.57), (52549, 11.84), (52559, 11.84), (52549, 12.21),
]

# second (highlighted) data set, 1998-2002
obs_highlight = [
    (51070, 11.72), (51168, 11.99),
    (51199, 10.76), (51218, 10.34), (51226, 10.2), (51233, 10.07), (51240, 9.95), (51247, 9.82), (51255, 9.7),
    (51262, 9.62), (51270, 9.6),
    (51277, 9.8), (51283, 10.05), (51288, 10.25), (51293, 10.45), (51298, 10.65), (51303, 10.85), (51308, 11.05),
    (51312, 11.25), (51316, 11.45), (51321, 11.62), (51326, 11.8), (51332, 11.95), (51340, 12.06),
    (51363, 13.03), (51381, 13.48),
    (51459, 10.56), (51465, 10.38), (51472, 10.2), (51480, 10.02), (51487, 9.9),
    (51769, 10.19), (51775, 10.35), (51780, 10.55), (51785, 10.75), (51790, 10.95), (51795, 11.15), (51799, 11.4),
    (51803, 11.6), (51808, 11.8), (51814, 12.0), (51820, 12.15), (51826, 12.35), (51832, 12.5), (51838, 12.65),
    (51845, 12.8), (51852, 12.88),
    (51860, 12.8), (51866, 12.65), (51872, 12.5), (51878, 12.35), (51884, 12.2), (51890, 12.05), (51896, 11.9),
    (51902, 11.75), (51908, 11.6), (51914, 11.45), (51920, 11.3), (51926, 11.15), (51932, 11.0), (51938, 10.85),
    (51944, 10.7), (51950, 10.55), (51956, 10.4), (51962, 10.25), (51968, 10.1), (51974, 9.95), (51980, 9.8),
    (51987, 9.68),
    (51994, 9.72), (52000, 9.85), (52006, 10.05), (52012, 10.25), (52018, 10.45), (52024, 10.65), (52030, 10.9),
    (52036, 11.2), (52040, 11.45), (52044, 11.7), (52049, 11.95), (52053, 12.2), (52057, 12.4),
    (52326, 12.78),
]

panels = [obs_1913_1930, obs_1930_1949, obs_1949_1968, obs_1968_1987, obs_1987_2002]

# ---------------- figure ----------------
W, H = 994, 1243
FONT = "Liberation Serif"
x0, x1 = 51 / W, 952 / W
panel_px = [(57, 257), (288, 488), (519, 719), (750, 950), (981, 1181)]

fig = go.Figure()
layout = dict(
    width=W, height=H, margin=dict(l=0, r=0, t=0, b=0, pad=0),
    paper_bgcolor="white", plot_bgcolor="white", showlegend=False,
    font=dict(family=FONT, color="black"),
)

for i, (obs, (lo, hi), (ptop, pbot)) in enumerate(zip(panels, panel_ranges, panel_px)):
    n = i + 1
    xa = "x" if n == 1 else f"x{n}"
    ya = "y" if n == 1 else f"y{n}"
    fig.add_trace(go.Scatter(
        x=[p[0] for p in obs], y=[p[1] for p in obs], mode="markers",
        marker=dict(color="black", size=6), xaxis=xa, yaxis=ya, hoverinfo="x+y",
    ))
    last = (n == 5)
    fs = 26 if last else 21
    layout[f"xaxis{n}"] = dict(
        domain=[x0, x1], anchor=ya, range=[lo, hi], automargin=False,
        tickvals=[t for t in jd_ticks if lo <= t <= hi],
        ticktext=[str(t) for t in jd_ticks if lo <= t <= hi],
        ticks="inside", ticklen=20, tickwidth=1.5, tickcolor="black",
        minor=dict(dtick=500, tick0=lo, ticks="inside", ticklen=8, tickwidth=1.5, tickcolor="black"),
        showline=True, linewidth=2, linecolor="black", mirror="ticks",
        showgrid=False, zeroline=False,
        ticklabelstandoff=(-5 if last else 0),
        tickfont=dict(family=FONT, size=fs, color="black"),
    )
    layout[f"yaxis{n}"] = dict(
        domain=[1 - pbot / H, 1 - ptop / H], anchor=xa, range=[16, 7], automargin=False,
        tickvals=mag_ticks, ticktext=mag_labels,
        ticks="inside", ticklen=12, tickwidth=1.5, tickcolor="black",
        showline=True, linewidth=2, linecolor="black", mirror="ticks",
        showgrid=False, zeroline=False,
        tickfont=dict(family=FONT, size=fs, color="black"),
    )

fig.add_trace(go.Scatter(
    x=[p[0] for p in obs_highlight], y=[p[1] for p in obs_highlight], mode="markers",
    marker=dict(color="#40E0D0", size=9), xaxis="x5", yaxis="y5", hoverinfo="x+y",
))

layout["annotations"] = [
    dict(text="T UMi, 1913-2002", x=(x0 + x1) / 2, y=1 - 35 / H, xref="paper", yref="paper",
         xanchor="center", yanchor="middle", showarrow=False, font=dict(family=FONT, size=25, color="black")),
    dict(text="m<sub>vis</sub>", x=9 / W, y=1 - 24 / H, xref="paper", yref="paper",
         xanchor="left", yanchor="middle", showarrow=False, font=dict(family=FONT, size=26, color="black")),
    dict(text="JD (-2400000)", x=(x0 + x1) / 2, y=1 - 1226 / H, xref="paper", yref="paper",
         xanchor="center", yanchor="middle", showarrow=False, font=dict(family=FONT, size=27, color="black")),
]

fig.update_layout(**layout)
fig.write_html(
    "out.html",
    config={"displayModeBar": False},
    post_script="document.body.style.margin='0px';document.body.style.overflow='hidden';",
)
